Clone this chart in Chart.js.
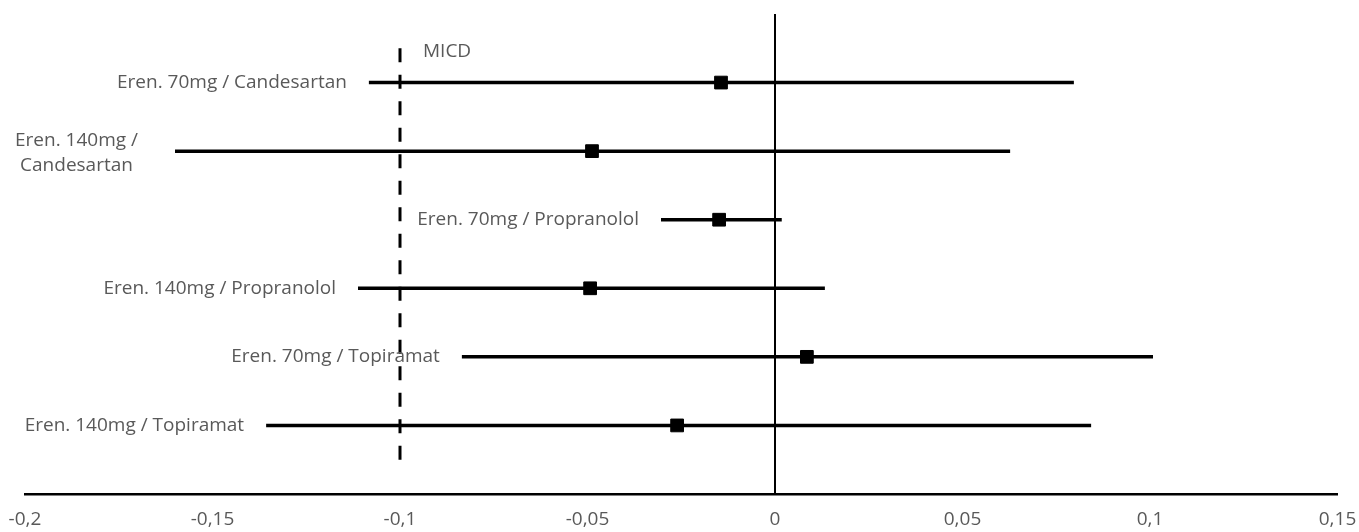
<!DOCTYPE html>
<html>
<head>
<meta charset="utf-8">
<script src="https://cdn.jsdelivr.net/npm/chart.js@4/dist/chart.umd.min.js"></script>
<style>
  html, body { margin: 0; padding: 0; background: #ffffff; }
  #wrap { width: 1359px; height: 532px; }
</style>
</head>
<body>
<div id="wrap"><canvas id="forest"></canvas></div>
<script>
// Comparisons, top to bottom
const comparisons = [
  'Eren. 70mg / Candesartan',
  'Eren. 140mg / Candesartan',
  'Eren. 70mg / Propranolol',
  'Eren. 140mg / Propranolol',
  'Eren. 70mg / Topiramat',
  'Eren. 140mg / Topiramat'
];
// Point estimates and confidence limits
const estimate = [-0.0144, -0.0488, -0.0149, -0.0493, 0.0085, -0.0261];
const lower    = [-0.1083, -0.1600, -0.0304, -0.1112, -0.0835, -0.1357];
const upper    = [ 0.0797,  0.0627,  0.0018,  0.0133,  0.1008,  0.0843];
// Minimal important clinical difference
const micd = -0.1;
const micdLabel = 'MICD';
// X axis ticks
const tickValues = [-0.2, -0.15, -0.1, -0.05, 0, 0.05, 0.1, 0.15];
const tickLabels = ['-0,2', '-0,15', '-0,1', '-0,05', '0', '0,05', '0,1', '0,15'];

const n = comparisons.length;
const rowY = comparisons.map((_, i) => n - i);
const FONT = '19px "Open Sans"';
const GREY = '#595959';

const intervalSets = comparisons.map((name, i) => ({
  label: name,
  data: [{ x: lower[i], y: rowY[i] }, { x: upper[i], y: rowY[i] }],
  showLine: true,
  borderColor: '#000000',
  borderWidth: 3.5,
  borderCapStyle: 'butt',
  pointRadius: 0,
  order: 2
}));

// Writes the comparison names left of each interval and the MICD caption
const labelPlugin = {
  id: 'rowLabels',
  afterDatasetsDraw(chart) {
    const ctx = chart.ctx;
    const xs = chart.scales.x, ys = chart.scales.y;
    ctx.save();
    ctx.font = FONT;
    ctx.fillStyle = GREY;
    ctx.textBaseline = 'middle';
    const gap = 22;
    comparisons.forEach((name, i) => {
      const xl = xs.getPixelForValue(lower[i]);
      const yc = ys.getPixelForValue(rowY[i]);
      const room = xl - gap;
      const w = ctx.measureText(name).width;
      if (w <= room) {
        ctx.textAlign = 'right';
        ctx.fillText(name, room, yc);
      } else {
        const cut = name.indexOf('/') + 1;
        const lines = [name.slice(0, cut).trim(), name.slice(cut).trim()];
        const lh = 25;
        ctx.textAlign = 'center';
        lines.forEach((ln, k) => {
          ctx.fillText(ln, room / 2, yc + 1.5 + (k - (lines.length - 1) / 2) * lh);
        });
      }
    });
    const mx = xs.getPixelForValue(micd);
    const my = ys.getPixelForValue(n + 0.5);
    ctx.textAlign = 'left';
    ctx.fillText(micdLabel, mx + 23, my + 3);
    ctx.restore();
  }
};

new Chart(document.getElementById('forest'), {
  type: 'scatter',
  data: {
    datasets: [
      {
        label: 'estimate',
        data: comparisons.map((_, i) => ({ x: estimate[i], y: rowY[i] })),
        pointStyle: 'rect',
        pointRadius: 9,
        backgroundColor: '#000000',
        borderColor: '#000000',
        borderWidth: 1,
        showLine: false,
        order: 0
      },
      ...intervalSets,
      {
        label: 'zero',
        data: [{ x: 0, y: 0 }, { x: 0, y: n + 1 }],
        showLine: true,
        borderColor: '#000000',
        borderWidth: 2,
        pointRadius: 0,
        order: 3
      },
      {
        label: 'micd',
        data: [{ x: micd, y: n + 0.5 }, { x: micd, y: 0.5 }],
        showLine: true,
        borderColor: '#000000',
        borderWidth: 3,
        borderDash: [14, 12.5],
        borderCapStyle: 'butt',
        pointRadius: 0,
        order: 4
      }
    ]
  },
  options: {
    responsive: true,
    maintainAspectRatio: false,
    animation: false,
    layout: { padding: { left: 25, right: 21.5, top: 14, bottom: 0 } },
    plugins: { legend: { display: false }, tooltip: { enabled: false } },
    scales: {
      x: {
        type: 'linear',
        min: tickValues[0],
        max: tickValues[tickValues.length - 1],
        afterBuildTicks: s => { s.ticks = tickValues.map(v => ({ value: v })); },
        afterFit: s => { s.height = 38; s.paddingLeft = 0; s.paddingRight = 0; },
        grid: { display: false, drawTicks: false },
        border: { display: true, color: '#000000', width: 2.5 },
        ticks: {
          color: GREY,
          font: { family: 'Open Sans', size: 19 },
          padding: 14,
          maxRotation: 0,
          autoSkip: false,
          callback: (v, i) => tickLabels[i]
        }
      },
      y: {
        type: 'linear',
        min: 0,
        max: n + 1,
        display: false
      }
    }
  },
  plugins: [labelPlugin]
});
</script>
</body>
</html>
